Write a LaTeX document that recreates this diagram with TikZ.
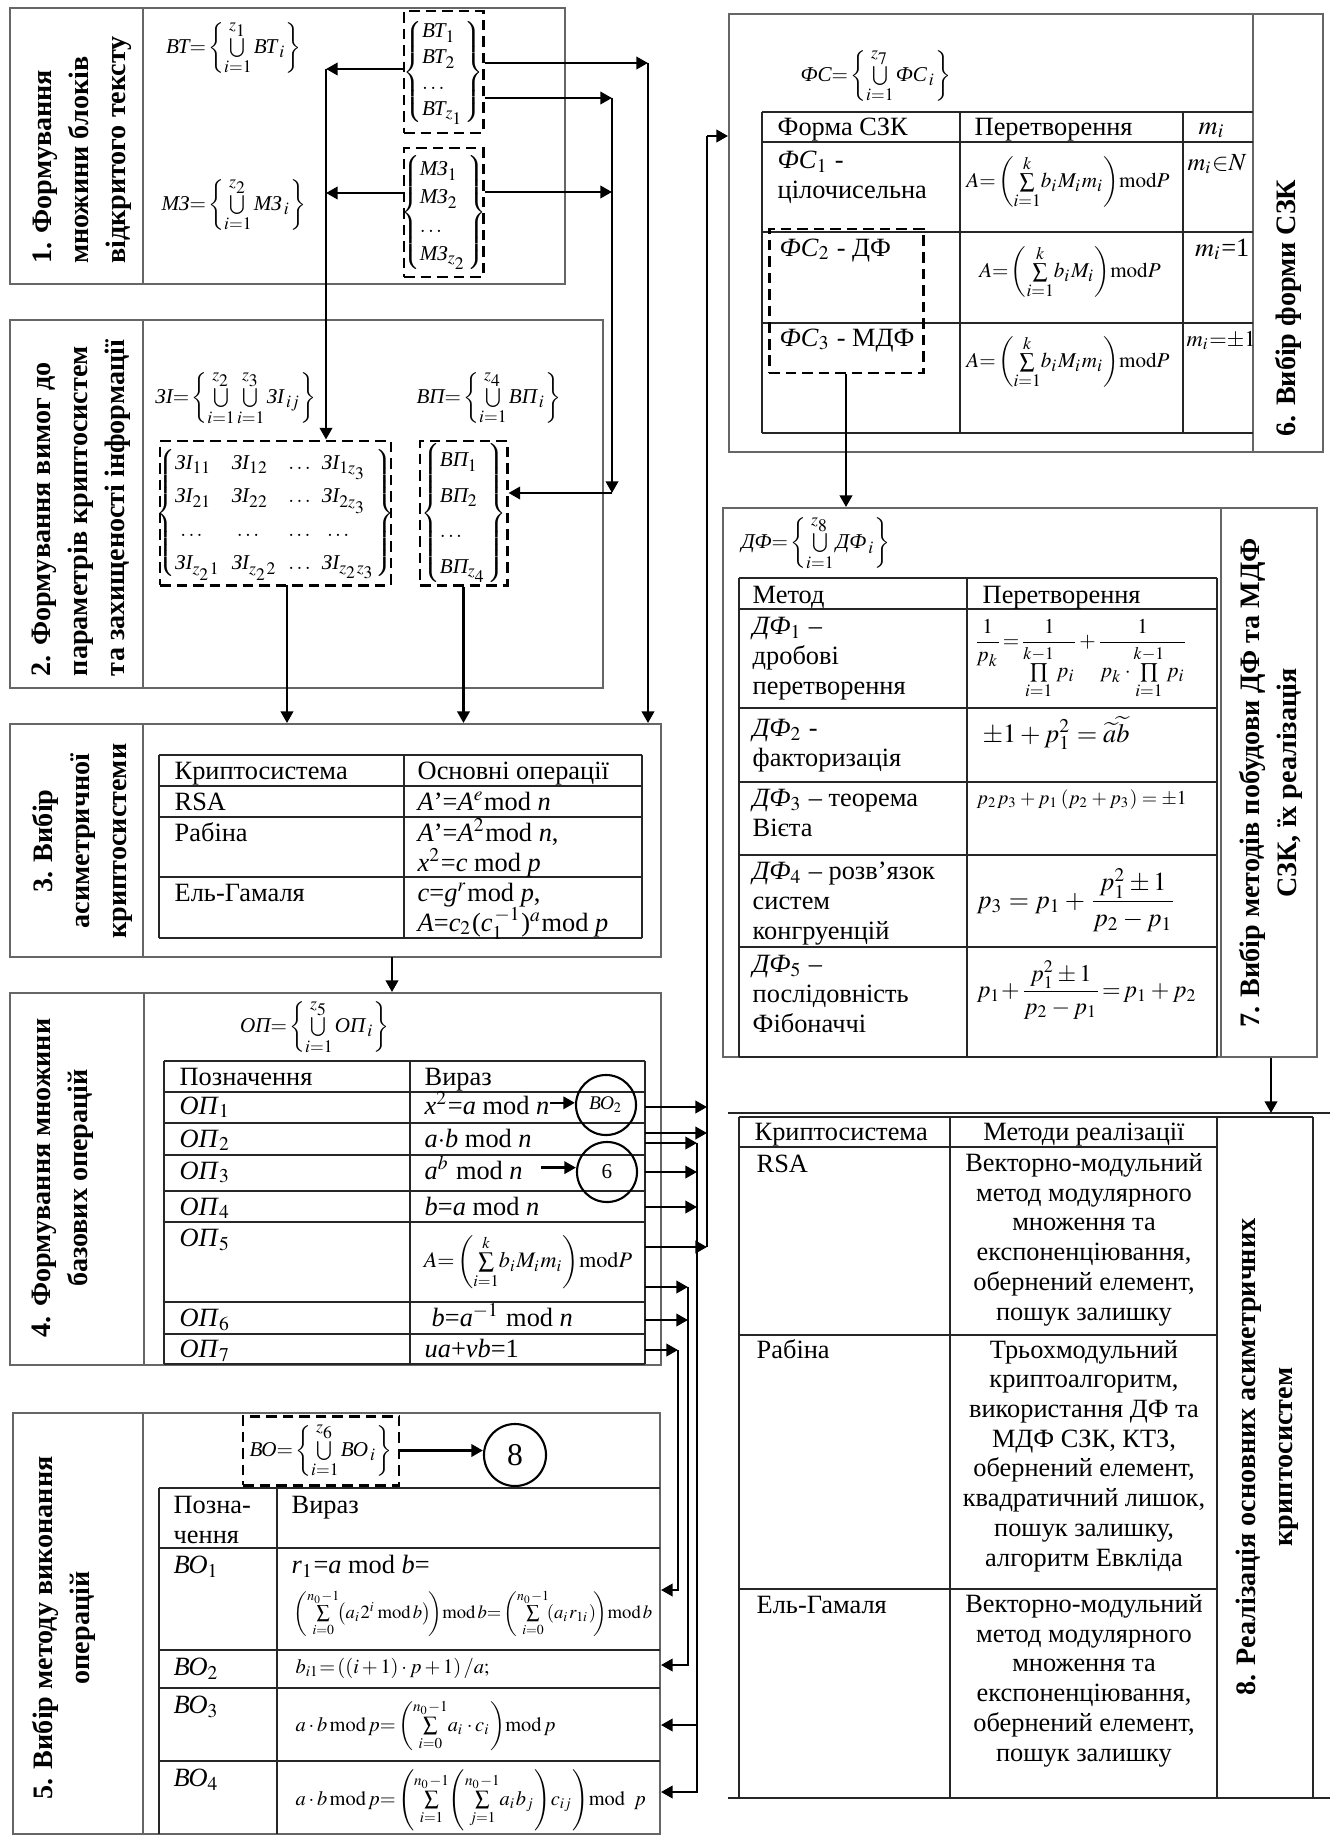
\documentclass[tikz,border=0pt]{standalone}
\usepackage{amsmath}
\usepackage{mathptmx}
\usepackage{fontspec}
\setmainfont{Liberation Serif}
\usetikzlibrary{arrows.meta,fit}

\newcommand{\cellfont}{\fontsize{7.5}{8.45}\selectfont}
\newcommand{\ttlfont}{\fontsize{8}{10.5}\selectfont\bfseries}
\newcommand{\frmfont}{\fontsize{6}{7}\selectfont}
\newcommand{\tfrm}{\fontsize{6.3}{7}\selectfont}
\newcommand{\cy}[1]{\text{\itshape #1}}
\newcommand{\itl}[1]{\textit{#1}}
\newcommand{\mmod}{\mathrm{mod}}

\tikzset{
  blk/.style={draw=black!60, line width=0.55pt, inner sep=0pt},
  tline/.style={draw=black!85, line width=0.6pt},
  arr/.style={line width=0.75pt, -{Triangle[length=3.3pt,width=3.5pt]}},
  bus/.style={line width=0.75pt},
  dbox/.style={draw, line width=0.85pt, dash pattern=on 3pt off 1.7pt, inner sep=0pt},
  ttl/.style={rotate=90, font=\ttlfont, align=center, inner sep=0pt},
  cell/.style={anchor=base west, inner sep=0pt, align=left, font=\cellfont},
  ccell/.style={anchor=base, inner sep=0pt, align=center, font=\cellfont},
  frm/.style={inner sep=0pt, font=\frmfont},
  circ/.style={draw, circle, line width=0.6pt, minimum size=0.6cm, inner sep=0pt},
}

\begin{document}
\begin{tikzpicture}[x=0.01cm, y=-0.01cm]
    \useasboundingbox (0,0) rectangle (1330,1836);

    % 1. blocks of plain text
    \node[blk, fit={(10,8) (565,284)}] (b1) {};
    \draw[blk] (143,8) -- (143,284);
    \node[ttl, align=left] at (82,150) {1. Формування\\множини блоків\\відкритого тексту};
    \node[frm] (fbt) at (234,48) {$\cy{ВТ}{=}\left\{\bigcup\limits_{i=1}^{z_1}\cy{ВТ}_{\,i}\right\}$};
    \node[frm] (fmz) at (234,205) {$\cy{МЗ}{=}\left\{\bigcup\limits_{i=1}^{z_2}\cy{МЗ}_{\,i}\right\}$};
    \node[dbox, fit={(404,11) (483,133)}] (bt) {};
    \node[frm] at (bt) {\renewcommand{\arraystretch}{1.05}$\left\{\begin{array}{@{}l@{}}\cy{ВТ}_1\\ \cy{ВТ}_2\\ \ldots\\ \cy{ВТ}_{z_1}\end{array}\right\}$};
    \node[dbox, fit={(404,148) (483,277)}] (mz) {};
    \node[frm] at (mz) {\renewcommand{\arraystretch}{1.15}$\left\{\begin{array}{@{}l@{}}\cy{МЗ}_1\\ \cy{МЗ}_2\\ \ldots\\ \cy{МЗ}_{z_2}\end{array}\right\}$};

    % 2. requirements
    \node[blk, fit={(10,320) (603,688)}] (b2) {};
    \draw[blk] (143,320) -- (143,688);
    \node[ttl, align=left] at (81,508) {2. Формування вимог до\\параметрів криптосистем\\та захищеності інформації};
    \node[frm] (fzi) at (236,398) {$\cy{ЗІ}{=}\left\{\bigcup\limits_{i=1}^{z_2}\bigcup\limits_{i=1}^{z_3}\cy{ЗІ}_{\,ij}\right\}$};
    \node[frm] (fvp) at (489,398) {$\cy{ВП}{=}\left\{\bigcup\limits_{i=1}^{z_4}\cy{ВП}_{\,i}\right\}$};
    \node[dbox, fit={(160,441) (391,585)}] (zi) {};
    \node[frm] at (zi) {\renewcommand{\arraystretch}{1.35}\setlength{\arraycolsep}{1.6pt}$\left\{\begin{array}{@{}llll@{}}\cy{ЗІ}_{11}&\cy{ЗІ}_{12}&\ldots&\cy{ЗІ}_{1z_3}\\ \cy{ЗІ}_{21}&\cy{ЗІ}_{22}&\ldots&\cy{ЗІ}_{2z_3}\\ \ \ldots&\ \ldots&\ldots&\ \ldots\\ \cy{ЗІ}_{z_21}&\cy{ЗІ}_{z_22}&\ldots&\cy{ЗІ}_{z_2z_3}\end{array}\right\}$};
    \node[dbox, fit={(420,441) (507,585)}] (vp) {};
    \node[frm] at (vp) {\renewcommand{\arraystretch}{1.45}$\left\{\begin{array}{@{}l@{}}\cy{ВП}_1\\ \cy{ВП}_2\\ \ldots\\ \cy{ВП}_{z_4}\end{array}\right\}$};

    % 3. cryptosystem
    \node[blk, fit={(10,724) (661,957)}] (b3) {};
    \draw[blk] (143,724) -- (143,957);
    \node[ttl] at (82,841) {3. Вибір\\асиметричної\\криптосистеми};
    \foreach \y in {755,786,817,877,938} \draw[tline] (159,\y) -- (642,\y);
    \foreach \x in {159,404,642} \draw[tline] (\x,755) -- (\x,938);
    \node[cell] at (174,779) {Криптосистема};
    \node[cell] at (417,779) {Основні операції};
    \node[cell] at (174,810) {RSA};
    \node[cell] at (417,810) {\itl{A}’=\itl{A}$^{e}$mod \itl{n}};
    \node[cell] at (174,841) {Рабіна};
    \node[cell] at (417,871) {\itl{A}’=\itl{A}$^{2}$mod \itl{n},\\ \itl{x}$^{2}$=\itl{c} mod \itl{p}};
    \node[cell] at (174,901) {Ель-Гамаля};
    \node[cell] at (417,931) {\itl{c}=\itl{g}$^{r}$mod \itl{p},\\\itl{A}=\itl{c}$_{2}$(\itl{c}$_{1}^{\,-1}$)$^{a}$mod \itl{p}};

    % 4. base operations
    \node[blk, fit={(10,993) (661,1365)}] (b4) {};
    \draw[blk] (144,993) -- (144,1365);
    \node[ttl] at (63,1178) {4. Формування множини\\базових операцій};
    \node[frm] (fop) at (315,1027) {$\cy{ОП}{=}\left\{\bigcup\limits_{i=1}^{z_5}\cy{ОП}_{\,i}\right\}$};
    \foreach \y in {1061,1092,1123,1155,1191,1222,1302,1334,1364} \draw[tline] (164,\y) -- (645,\y);
    \foreach \x in {164,410,645} \draw[tline] (\x,1061) -- (\x,1364);
    \node[cell] at (179,1085) {Позначення};
    \node[cell] at (424,1085) {Вираз};
    \foreach \n/\y in {1/1114, 2/1147, 3/1179, 4/1215, 5/1246, 6/1326, 7/1357}
        \node[cell] at (179,\y) {\itl{ОП}$_{\n}$};
    \node[cell] (op1x) at (424,1114) {\itl{x}$^{2}$=\itl{a} mod \itl{n}};
    \node[cell] (op2x) at (424,1147) {\itl{a}$\cdot$\itl{b} mod \itl{n}};
    \node[cell] (op3x) at (424,1179) {\itl{a}$^{b}$ mod \itl{n}};
    \node[cell] (op4x) at (424,1215) {\itl{b}=\itl{a} mod \itl{n}};
    \node[font=\tfrm, inner sep=0pt] (op5x) at (528,1262) {$A{=}\left(\sum\limits_{i=1}^{k}\!b_iM_im_i\right)\!\mmod P$};
    \node[cell] (op6x) at (431,1326) {\itl{b}=\itl{a}$^{-1}$ mod \itl{n}};
    \node[cell] (op7x) at (424,1357) {\itl{ua}+\itl{vb}=1};
    \node[circ] (cbo) at (606,1105) {\fontsize{5.5}{6}\selectfont$\cy{ВО}_2$};
    \node[circ] (c6) at (607,1172) {\fontsize{6}{7}\selectfont 6};
    \draw[arr] (op1x.east) -- (op1x.east -| cbo.west);
    \draw[arr] ([xshift=0.18cm]op3x.east) -- (op3x.east -| c6.west);

    % 5. method of operations
    \node[blk, fit={(13,1413) (660,1834)}] (b5) {};
    \draw[blk] (143,1413) -- (143,1834);
    \node[ttl] at (64,1628) {5. Вибір методу виконання\\операцій};
    \node[dbox, fit={(243,1416) (399,1485)}] (bo) {};
    \node[frm] at (bo) {$\cy{ВО}{=}\left\{\bigcup\limits_{i=1}^{z_6}\cy{ВО}_{\,i}\right\}$};
    \node[circ, minimum size=0.62cm] (c8) at (515,1455) {\fontsize{9}{10}\selectfont 8};
    \draw[arr] (bo.east) -- (bo.east -| c8.west);
    \foreach \y in {1488,1548,1650,1688,1761} \draw[tline] (159,\y) -- (660,\y);
    \foreach \x in {159,277} \draw[tline] (\x,1488) -- (\x,1834);
    \node[cell] at (173,1543) {Позна-\\чення};
    \node[cell] at (291,1513) {Вираз};
    \node[cell] at (173,1573) {\itl{ВО}$_1$};
    \node[cell] at (173,1675) {\itl{ВО}$_2$};
    \node[cell] at (173,1713) {\itl{ВО}$_3$};
    \node[cell] at (173,1786) {\itl{ВО}$_4$};
    \node[cell] at (291,1573) {\itl{r}$_1$=\itl{a} mod \itl{b}=};
    \node[font=\fontsize{5.3}{6.2}\selectfont, inner sep=0pt, anchor=west] at (293,1613) {$\left(\sum\limits_{i=0}^{n_0-1}\!\!\left(a_i2^i\,\mmod\,b\right)\!\right)\!\mmod\,b{=}\left(\sum\limits_{i=0}^{n_0-1}\!\!\left(a_ir_{1i}\right)\!\right)\!\mmod\,b$};
    \node[font=\fontsize{5.8}{6.5}\selectfont, inner sep=0pt, anchor=west] at (295,1668) {$b_{i1}{=}\left(\left(i+1\right)\cdot p+1\right)/a;$};
    \node[font=\fontsize{5.8}{6.5}\selectfont, inner sep=0pt, anchor=west] at (295,1725) {$a\cdot b\,\mmod\,p{=}\left(\sum\limits_{i=0}^{n_0-1}\!a_i\cdot c_i\right)\!\mmod\,p$};
    \node[font=\fontsize{5.8}{6.5}\selectfont, inner sep=0pt, anchor=west] at (295,1800) {$a\cdot b\,\mmod\,p{=}\left(\sum\limits_{i=1}^{n_0-1}\!\left(\sum\limits_{j=1}^{n_0-1}\!a_ib_j\right)\!c_{ij}\right)\!\mmod\;\;p$};

    % 6. form of residue system
    \node[blk, fit={(729,14) (1323,452)}] (b6) {};
    \draw[blk] (1253,14) -- (1253,452);
    \node[ttl] at (1288,308) {6. Вибір форми СЗК};
    \node[frm] (ffs) at (876,76) {$\cy{ФС}{=}\left\{\bigcup\limits_{i=1}^{z_7}\cy{ФС}_{\,i}\right\}$};
    \foreach \y in {112,142,232,323,433} \draw[tline] (762,\y) -- (1253,\y);
    \foreach \x in {762,960,1183} \draw[tline] (\x,112) -- (\x,433);
    \node[cell] at (777,135) {Форма СЗК};
    \node[cell] at (974,135) {Перетворення};
    \node[cell] at (1198,134) {$m_i$};
    \node[cell] at (777,198) {\itl{ФС}$_1$ -\\цілочисельна};
    \node[cell] at (779,256) {\itl{ФС}$_2$ - ДФ};
    \node[cell] at (779,346) {\itl{ФС}$_3$ - МДФ};
    \node[font=\frmfont, inner sep=0pt] at (1068,182) {$A{=}\left(\sum\limits_{i=1}^{k}\!b_iM_im_i\right)\!\mmod P$};
    \node[font=\frmfont, inner sep=0pt] at (1070,272) {$A{=}\left(\sum\limits_{i=1}^{k}\!b_iM_i\right)\!\mmod P$};
    \node[font=\frmfont, inner sep=0pt] at (1068,362) {$A{=}\left(\sum\limits_{i=1}^{k}\!b_iM_im_i\right)\!\mmod P$};
    \node[cell, font=\fontsize{7}{8}\selectfont] at (1187,170) {$m_i{\in}N$};
    \node[cell, anchor=base east] at (1250,256) {$m_i$=1};
    \node[cell, font=\fontsize{6.4}{7.5}\selectfont] at (1186,346) {$m_i{=}{\pm}1$};
    \node[dbox, fit={(769,229) (923,373)}] (dfs) {};

    % 7. methods DF / MDF
    \node[blk, fit={(723,508) (1317,1057)}] (b7) {};
    \draw[blk] (1221,508) -- (1221,1057);
    \node[ttl] at (1271,783) {7. Вибір методів побудови ДФ та МДФ\\СЗК, їх реалізація};
    \node[frm] (fdf) at (816,543) {$\cy{ДФ}{=}\left\{\bigcup\limits_{i=1}^{z_8}\cy{ДФ}_{\,i}\right\}$};
    \foreach \y in {578,609,708,782,855,947,1057} \draw[tline] (739,\y) -- (1217,\y);
    \foreach \x in {739,967,1217} \draw[tline] (\x,578) -- (\x,1057);
    \node[cell] at (752,603) {Метод};
    \node[cell] at (982,603) {Перетворення};
    \node[cell] at (752,694) {\itl{ДФ}$_1$ –\\дробові\\перетворення};
    \node[cell] at (752,766) {\itl{ДФ}$_2$ -\\факторизація};
    \node[cell] at (752,836) {\itl{ДФ}$_3$ – теорема\\Вієта};
    \node[cell] at (752,939) {\itl{ДФ}$_4$ – розв’язок\\систем\\конгруенцій};
    \node[cell] at (752,1032) {\itl{ДФ}$_5$ –\\послідовність\\Фібоначчі};
    \node[font=\fontsize{6}{7}\selectfont, inner sep=0pt] at (1081,659) {$\dfrac{1}{p_k}{=}\dfrac{1}{\prod\limits_{i=1}^{k-1}p_i}{+}\dfrac{1}{p_k\cdot\prod\limits_{i=1}^{k-1}p_i}$};
    \node[font=\fontsize{7.5}{9}\selectfont, inner sep=0pt, anchor=west] at (982,733) {$\pm1+p_1^2=\widetilde{a}\widetilde{b}$};
    \node[font=\fontsize{5.6}{7}\selectfont, inner sep=0pt, anchor=west] at (976,800) {$p_2p_3+p_1\left(p_2+p_3\right)=\pm1$};
    \node[font=\fontsize{7.4}{9}\selectfont, inner sep=0pt, anchor=west] at (976,900) {$p_3=p_1+\dfrac{p_1^2\pm1}{p_2-p_1}$};
    \node[font=\fontsize{6.8}{8}\selectfont, inner sep=0pt, anchor=west] at (976,990) {$p_1{+}\dfrac{p_1^2\pm1}{p_2-p_1}{=}\,p_1+p_2$};

    % 8. realisation
    \draw[blk, draw=black!85] (728,1113) -- (1330,1113);
    \draw[blk, draw=black!85, line width=0.7pt] (728,1798) -- (1330,1798);
    \draw[tline] (739,1117) -- (1313,1117);
    \foreach \y in {1147,1335,1589} \draw[tline] (739,\y) -- (1217,\y);
    \foreach \x in {739,950,1217,1313} \draw[tline] (\x,1117) -- (\x,1798);
    \node[ttl] at (1267,1457) {8. Реалізація основних асиметричних\\криптосистем};
    \node[cell] at (754,1140) {Криптосистема};
    \node[ccell] at (1084,1140) {Методи реалізації};
    \node[cell] at (756,1172) {RSA};
    \node[cell] at (756,1358) {Рабіна};
    \node[cell] at (756,1613) {Ель-Гамаля};
    \node[ccell] at (1084,1320) {Векторно-модульний\\метод модулярного\\множення та\\експоненціювання,\\обернений елемент,\\пошук залишку};
    \node[ccell] at (1084,1566) {Трьохмодульний\\криптоалгоритм,\\використання ДФ та\\МДФ СЗК, КТЗ,\\обернений елемент,\\квадратичний лишок,\\пошук залишку,\\алгоритм Евкліда};
    \node[ccell] at (1084,1761) {Векторно-модульний\\метод модулярного\\множення та\\експоненціювання,\\обернений елемент,\\пошук залишку};

    % connectors
    \coordinate (jl) at (326,69);
    \coordinate (jlm) at (326,193);
    \coordinate (jf) at (648,63);
    \coordinate (jr) at (612,98);
    \coordinate (jrm) at (612,192);
    \coordinate (jv) at (612,493);
    \coordinate (zio) at (287,585);
    \coordinate (c34) at (392,957);
    \coordinate (la) at (707,136);
    \coordinate (b8t) at (1271,1113);
    \draw[arr] (bt.west |- jl) -- (jl);
    \draw[arr] (mz.west |- jlm) -- (jlm);
    \draw[arr] (jl) -- (jl |- zi.north);
    \draw[arr] (bt.east |- jf) -- (jf);
    \draw[arr] (jf) -- (jf |- b3.north);
    \draw[arr] (bt.east |- jr) -- (jr);
    \draw[arr] (mz.east |- jrm) -- (jrm);
    \draw[arr] (jr) -- (jv);
    \draw[arr] (jv) -- (vp.east |- jv);
    \draw[arr] (zio) -- (zio |- b3.north);
    \draw[arr] (vp.south) -- (vp.south |- b3.north);
    \draw[arr] (c34) -- (c34 |- b4.north);
    \draw[bus] (la) -- (707,1247);
    \draw[arr] (la) -- (la -| b6.west);
    \foreach \y/\x in {1107/707, 1133/707, 1143/697, 1172/697, 1207/697, 1247/707, 1287/688, 1320/688, 1350/678}
        \draw[arr] (645,\y) -- (\x,\y);
    \draw[arr] (697,1143) -- (697,1792) -- (b5.east |- 0,1792);
    \draw[arr] (697,1725) -- (b5.east |- 0,1725);
    \draw[arr] (688,1287) -- (688,1665) -- (b5.east |- 0,1665);
    \draw[arr] (678,1350) -- (678,1590) -- (b5.east |- 0,1590);
    \draw[arr] (dfs.south) -- (dfs.south |- b7.north);
    \draw[arr] (b7.south -| b8t) -- (b8t);
\end{tikzpicture}
\end{document}
